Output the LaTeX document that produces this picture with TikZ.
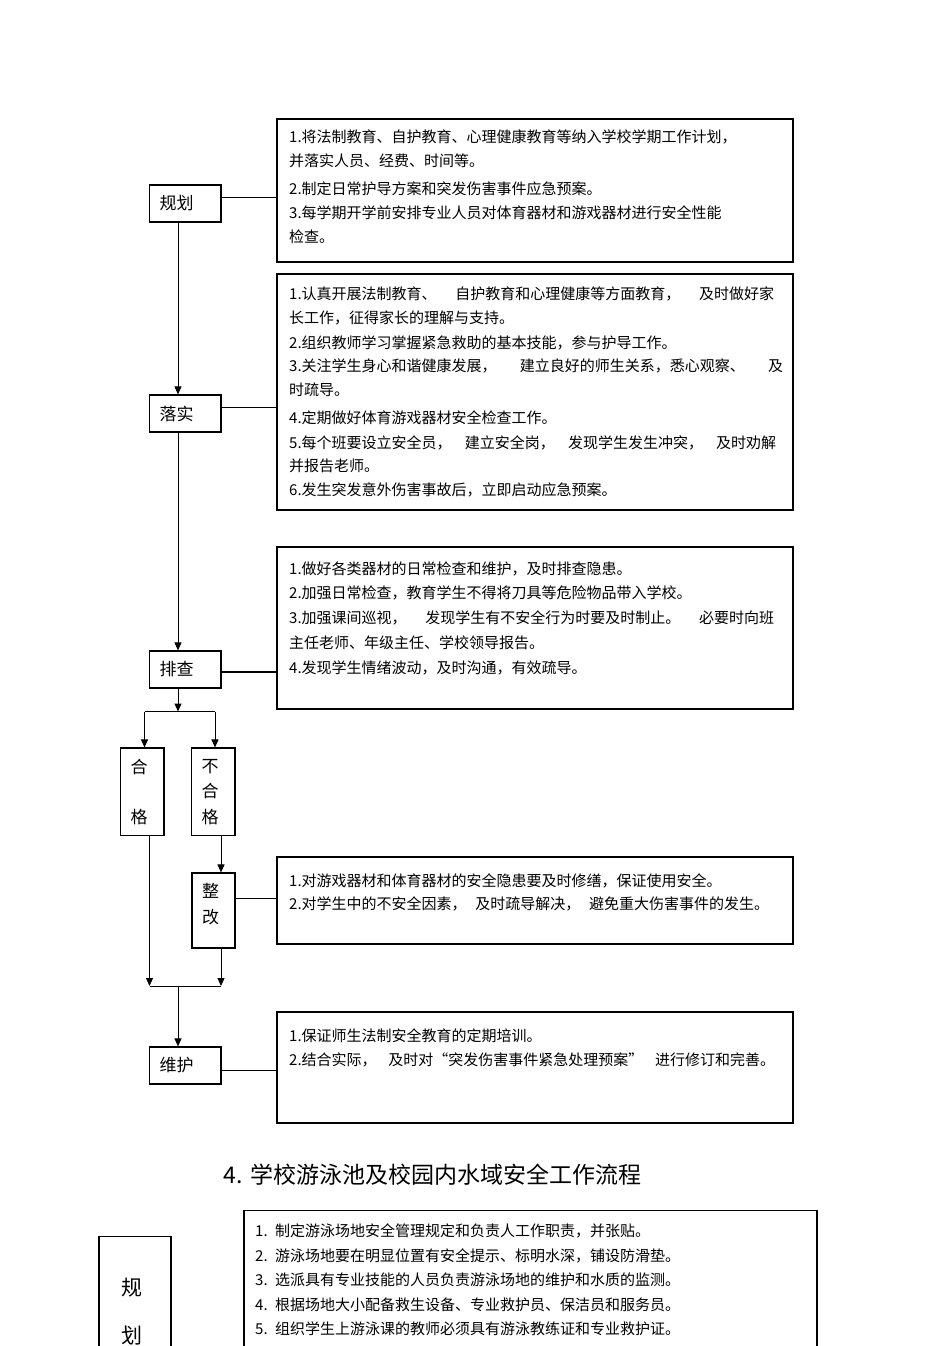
\documentclass[tikz,border=0pt]{standalone}
\usepackage{fontspec}
\setmainfont{Noto Sans CJK SC}
\usetikzlibrary{arrows.meta}
\newcommand\jline[2]{\leavevmode\hbox to #1{#2}}
\tikzset{
  lbl/.style={draw, line width=1.2pt, inner xsep=10pt, inner ysep=0pt, align=left,
    font=\fontsize{17}{20}\selectfont},
  vlbl/.style={draw, line width=1.2pt, inner xsep=10pt, inner ysep=0pt, align=left},
  rbox/.style={draw, line width=1.2pt, inner sep=0pt},
  txt/.style={inner sep=0pt, anchor=base west, align=left, text width=520pt},
  conn/.style={line width=1pt},
  thickconn/.style={line width=2pt},
  arr/.style={line width=1pt, -{Triangle[length=8pt,width=7pt]}},
}
\begin{document}
\begin{tikzpicture}[x=1pt,y=-1pt]
\useasboundingbox (0,0) rectangle (950,1346);

% ---------- left column labels ----------
\node[lbl, text width=51.5pt, minimum height=37pt] (gh) at (185.25,203.5) {规划};
\node[lbl, text width=51.5pt, minimum height=37pt] (ls) at (185.25,413.5) {落实};
\node[lbl, text width=51.5pt, minimum height=37pt] (pc) at (185.25,669.5) {排查};
\node[vlbl, text width=23.3pt, minimum height=87.7pt, font=\fontsize{17}{25}\selectfont] (hg) at (142.35,791.85) {合\\[25pt]格};
\node[vlbl, text width=23.3pt, minimum height=87.7pt, font=\fontsize{17}{25.5}\selectfont] (bhg) at (213.35,791.85) {不\\合\\格};
\node[vlbl, text width=23pt, minimum height=75pt] (zg) at (213.5,910.5) {};
\node[inner sep=0pt, align=left, anchor=north west, font=\fontsize{17}{26}\selectfont] (zgt) at (202,883) {整\\改};
\node[lbl, text width=51.5pt, minimum height=37pt] (wh) at (185.25,1065.5) {维护};

% ---------- right boxes ----------
\node[rbox, minimum width=516pt, minimum height=143pt] (b1) at (535,190.5) {};
\node[rbox, minimum width=516pt, minimum height=236pt] (b2) at (535,392) {};
\node[rbox, minimum width=516pt, minimum height=162pt] (b3) at (535,628) {};
\node[rbox, minimum width=516pt, minimum height=87pt] (b4) at (535,900.5) {};
\node[rbox, minimum width=516pt, minimum height=111pt] (b5) at (535,1067.5) {};

% ---------- texts in boxes ----------
\node[txt, font=\fontsize{15}{24}\selectfont] (t1) at (289,142.7) {%
1.将法制教育、自护教育、心理健康教育等纳入学校学期工作计划，\\
并落实人员、经费、时间等。\\[4pt]
2.制定日常护导方案和突发伤害事件应急预案。\\
3.每学期开学前安排专业人员对体育器材和游戏器材进行安全性能\\
检查。};

\node[txt, font=\fontsize{15}{23.5}\selectfont] (t2) at (289,299.7) {%
\jline{485pt}{1.认真开展法制教育、\hfill 自护教育和心理健康等方面教育，\hfill 及时做好家}\\
长工作，征得家长的理解与支持。\\[1.5pt]
2.组织教师学习掌握紧急救助的基本技能，参与护导工作。\\
\jline{494pt}{3.关注学生身心和谐健康发展，\hfill 建立良好的师生关系，悉心观察、\hfill 及}\\
时疏导。\\[4.5pt]
4.定期做好体育游戏器材安全检查工作。\\[1.5pt]
\jline{487pt}{5.每个班要设立安全员，\hfill 建立安全岗，\hfill 发现学生发生冲突，\hfill 及时劝解}\\
并报告老师。\\
6.发生突发意外伤害事故后，立即启动应急预案。};

\node[txt, font=\fontsize{15}{24.75}\selectfont] (t3) at (289,574.2) {%
1.做好各类器材的日常检查和维护，及时排查隐患。\\
2.加强日常检查，教育学生不得将刀具等危险物品带入学校。\\
\jline{485pt}{3.加强课间巡视，\hfill 发现学生有不安全行为时要及时制止。\hfill 必要时向班}\\
主任老师、年级主任、学校领导报告。\\
4.发现学生情绪波动，及时沟通，有效疏导。};

\node[txt, font=\fontsize{15}{22.5}\selectfont] (t4) at (289,886.7) {%
1.对游戏器材和体育器材的安全隐患要及时修缮，保证使用安全。\\
\jline{480pt}{2.对学生中的不安全因素，\hfill 及时疏导解决，\hfill 避免重大伤害事件的发生。}};

\node[txt, font=\fontsize{15}{24}\selectfont] (t5) at (289,1041.7) {%
1.保证师生法制安全教育的定期培训。\\
\jline{486pt}{2.结合实际，\hfill 及时对“突发伤害事件紧急处理预案”\hfill 进行修订和完善。}};

% ---------- connectors ----------
\coordinate (c1) at (0,197.5);
\coordinate (c2) at (0,407);
\coordinate (c3) at (0,672);
\coordinate (c4) at (0,898);
\coordinate (c5) at (0,1070);
\draw[conn] (gh.east |- c1) -- (b1.west |- c1);
\draw[conn] (ls.east |- c2) -- (b2.west |- c2);
\draw[thickconn] (pc.east |- c3) -- (b3.west |- c3);
\draw[conn] (zg.east |- c4) -- (b4.west |- c4);
\draw[conn] (wh.east |- c5) -- (b5.west |- c5);

\coordinate (sp) at (178,0);
\draw[arr] (gh.south -| sp) -- (ls.north -| sp);
\draw[arr] (ls.south -| sp) -- (pc.north -| sp);
\coordinate (j1) at (178,711.5);
\coordinate (jl) at (144.5,711.5);
\coordinate (jr) at (215,711.5);
\draw[arr] (pc.south -| sp) -- (j1);
\draw[conn] (jl) -- (jr);
\draw[arr] (jl) -- (hg.north -| jl);
\draw[arr] (jr) -- (bhg.north -| jr);
\coordinate (xa) at (149.5,0);
\coordinate (xb) at (221,0);
\draw[arr] (bhg.south -| xb) -- (zg.north -| xb);
\coordinate (k1) at (149.5,986);
\coordinate (k2) at (221,986);
\draw[arr] (hg.south -| xa) -- (k1);
\draw[arr] (zg.south -| xb) -- (k2);
\draw[conn] (k1) -- (k2);
\draw[arr] (k1 -| sp) -- (wh.north -| sp);

% ---------- section 4 ----------
\node[inner sep=0pt, font=\fontsize{23}{28}\selectfont] (title) at (432.5,1175) {4. 学校游泳池及校园内水域安全工作流程};

\node[rbox, minimum width=72pt, minimum height=133pt] (g2) at (135,1303.35) {};
\node[inner sep=0pt, font=\fontsize{21}{24}\selectfont] (g2a) at (131.7,1288) {规};
\node[inner sep=0pt, font=\fontsize{21}{24}\selectfont] (g2b) at (131.7,1336) {划};

\node[rbox, minimum width=573pt, minimum height=159.5pt] (b6) at (530.5,1290.25) {};
\node[txt, font=\fontsize{15}{24.5}\selectfont] (t6) at (255,1236.7) {%
1. 制定游泳场地安全管理规定和负责人工作职责，并张贴。\\
2. 游泳场地要在明显位置有安全提示、标明水深，铺设防滑垫。\\
3. 选派具有专业技能的人员负责游泳场地的维护和水质的监测。\\
4. 根据场地大小配备救生设备、专业救护员、保洁员和服务员。\\
5. 组织学生上游泳课的教师必须具有游泳教练证和专业救护证。};
\end{tikzpicture}
\end{document}
